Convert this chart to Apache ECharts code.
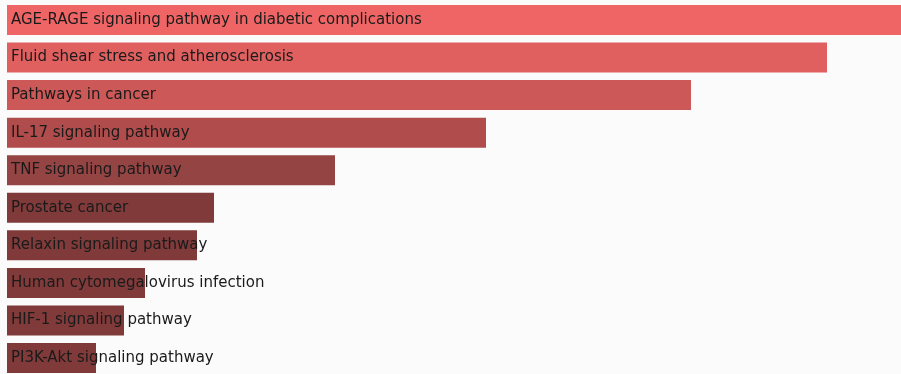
<!DOCTYPE html>
<html><head><meta charset="utf-8">
<script src="https://cdn.jsdelivr.net/npm/echarts@6/dist/echarts.min.js"></script>
<style>html,body{margin:0;padding:0;background:#fbfbfb;overflow:hidden;}#c{width:901px;height:380px;}</style>
</head><body><div id="c"></div>
<script>
const categories = [
  "AGE-RAGE signaling pathway in diabetic complications",
  "Fluid shear stress and atherosclerosis",
  "Pathways in cancer",
  "IL-17 signaling pathway",
  "TNF signaling pathway",
  "Prostate cancer",
  "Relaxin signaling pathway",
  "Human cytomegalovirus infection",
  "HIF-1 signaling pathway",
  "PI3K-Akt signaling pathway"
];
const values = [894, 820, 684, 479, 328, 207, 190, 138, 117, 89];
const colors = ["#ef6565", "#e06060", "#cc5858", "#b04c4c", "#954444", "#803a3a", "#803a3a", "#803a3a", "#803a3a", "#803a3a"];

const chart = echarts.init(document.getElementById('c'), null, {renderer: 'canvas'});
chart.setOption({
  backgroundColor: '#fbfbfb',
  animation: false,
  grid: {left: 7, right: 0, top: 1.2, height: 375.6, containLabel: false},
  xAxis: {type: 'value', min: 0, max: values[0], show: false},
  yAxis: {type: 'category', data: categories, inverse: true, show: false},
  series: [{
    type: 'bar',
    barWidth: 30,
    data: values.map((v, i) => ({value: v, itemStyle: {color: colors[i]}})),
    label: {
      show: true,
      position: 'insideLeft',
      distance: 4,
      formatter: (p) => categories[p.dataIndex],
      color: '#1a1a1a',
      fontFamily: 'DejaVu Sans',
      fontSize: 15
    }
  }]
});
</script></body></html>
